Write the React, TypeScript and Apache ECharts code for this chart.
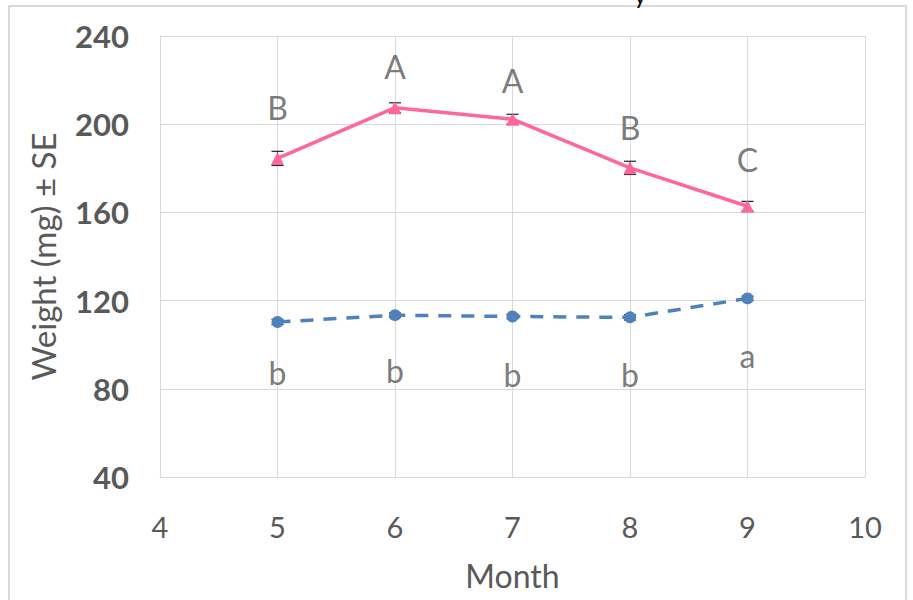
import React, { useEffect, useRef } from "react";
import * as echarts from "echarts";

const months = [5, 6, 7, 8, 9];
const pinkValues = [184.5, 207.5, 202.3, 180.2, 162.8];
const pinkSE = [3.2, 2.2, 2.2, 3.0, 2.2];
const blueValues = [110.3, 113.4, 112.8, 112.4, 121.0];
const blueSE = [1.2, 1.0, 1.0, 1.2, 1.0];
const pinkLetters = ["B", "A", "A", "B", "C"];
const pinkLetterY = [207.5, 226.3, 220, 198.3, 183.8];
const blueLetters = ["b", "b", "b", "b", "a"];
const blueLetterY = [87.4, 88.3, 86.6, 86.6, 95.3];

const FONT = "Lato, 'Open Sans', sans-serif";
const TEXT = "#595959";

export default function App() {
  const ref = useRef<HTMLDivElement>(null);
  useEffect(() => {
    if (!ref.current) return;
    const chart = echarts.init(ref.current, null, { renderer: "svg" });
    const errRender = (params: any, api: any) => {
      const x = api.value(0);
      const lo = api.coord([x, api.value(1)]);
      const hi = api.coord([x, api.value(2)]);
      const w = 6;
      const style = { stroke: "#222", lineWidth: 1.2 };
      return {
        type: "group",
        children: [
          { type: "line", shape: { x1: lo[0], y1: lo[1], x2: hi[0], y2: hi[1] }, style },
          { type: "line", shape: { x1: lo[0] - w, y1: lo[1], x2: lo[0] + w, y2: lo[1] }, style },
          { type: "line", shape: { x1: hi[0] - w, y1: hi[1], x2: hi[0] + w, y2: hi[1] }, style },
        ],
      };
    };
    const letterSeries = (letters: string[], ys: number[]) => ({
      type: "scatter",
      symbolSize: 0,
      silent: true,
      z: 5,
      data: months.map((m, i) => ({ value: [m, ys[i]], name: letters[i] })),
      label: {
        show: true,
        position: "inside",
        formatter: (p: any) => p.name,
        fontFamily: FONT,
        fontSize: 32,
        color: TEXT,
      },
    });
    chart.setOption({
      animation: false,
      backgroundColor: "#ffffff",
      graphic: [
        {
          type: "rect",
          shape: { x: 9, y: 6, width: 897, height: 620 },
          style: { fill: "none", stroke: "#d9d9d9", lineWidth: 2 },
        },
        {
          type: "text",
          x: 634,
          y: -18,
          style: { text: "y", fontFamily: FONT, fontSize: 24, fill: "#000" },
        },
      ],
      grid: { left: 160, right: 48, top: 36, bottom: 123 },
      xAxis: {
        type: "value",
        min: 4,
        max: 10,
        interval: 1,
        name: "Month",
        nameLocation: "middle",
        nameGap: 82,
        nameTextStyle: { fontFamily: FONT, fontSize: 32, color: TEXT },
        axisLine: { show: true, lineStyle: { color: "#d9d9d9", width: 1 } },
        axisTick: { show: false },
        axisLabel: { fontFamily: FONT, fontSize: 29, color: TEXT, margin: 35 },
        splitLine: { show: true, lineStyle: { color: "#d9d9d9", width: 1 } },
      },
      yAxis: {
        type: "value",
        min: 40,
        max: 240,
        interval: 40,
        name: "Weight (mg) ± SE",
        nameLocation: "middle",
        nameGap: 101,
        nameRotate: 90,
        nameTextStyle: { fontFamily: FONT, fontSize: 33, color: TEXT },
        axisLine: { show: true, lineStyle: { color: "#d9d9d9", width: 1 } },
        axisTick: { show: false },
        axisLabel: { fontFamily: FONT, fontSize: 31, fontWeight: "bold", color: TEXT, margin: 31 },
        splitLine: { show: true, lineStyle: { color: "#d9d9d9", width: 1 } },
      },
      series: [
        {
          type: "custom",
          renderItem: errRender,
          data: months.map((m, i) => [m, pinkValues[i] - pinkSE[i], pinkValues[i] + pinkSE[i]]),
          z: 2,
        },
        {
          type: "custom",
          renderItem: errRender,
          data: months.map((m, i) => [m, blueValues[i] - blueSE[i], blueValues[i] + blueSE[i]]),
          z: 2,
        },
        {
          type: "line",
          data: months.map((m, i) => [m, pinkValues[i]]),
          symbol: "triangle",
          symbolSize: 13,
          itemStyle: { color: "#ff6699" },
          lineStyle: { color: "#ff6699", width: 3.5 },
          z: 3,
        },
        {
          type: "line",
          data: months.map((m, i) => [m, blueValues[i]]),
          symbol: "circle",
          symbolSize: 12,
          itemStyle: { color: "#4f81bd" },
          lineStyle: { color: "#4f81bd", width: 3.5, type: [13, 10] },
          z: 3,
        },
        letterSeries(pinkLetters, pinkLetterY),
        letterSeries(blueLetters, blueLetterY),
      ],
    });
    return () => chart.dispose();
  }, []);
  return (
    <div
      ref={ref}
      style={{ position: "fixed", left: 0, top: 0, width: 913, height: 600 }}
    />
  );
}
